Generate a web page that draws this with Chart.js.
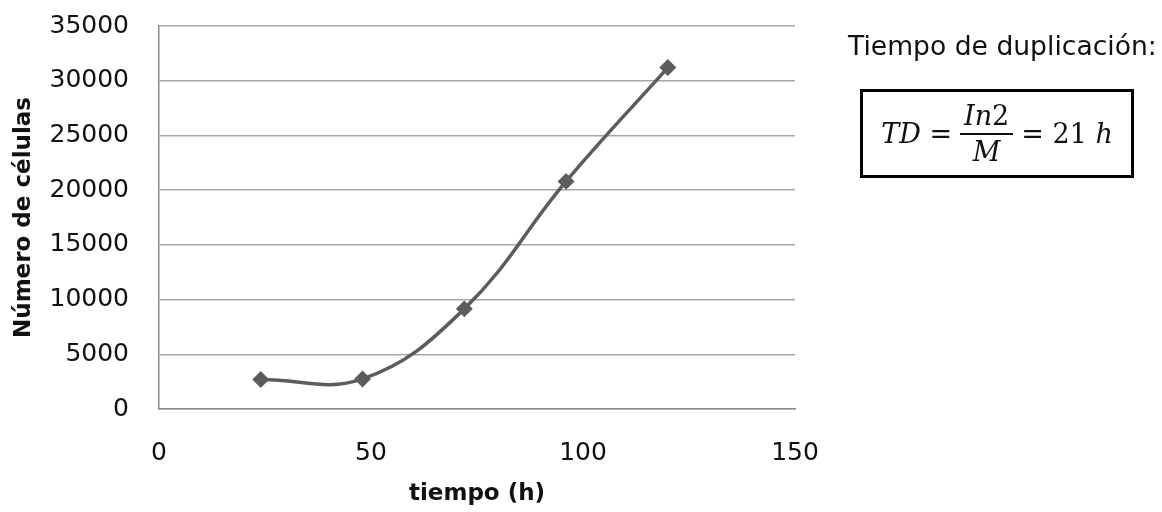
<!DOCTYPE html>
<html><head><meta charset="utf-8">
<script src="https://cdn.jsdelivr.net/npm/chart.js@4/dist/chart.umd.min.js"></script>
<style>
html,body{margin:0;padding:0;background:#fff;}
#wrap{position:relative;width:1162px;height:512px;}
#title{position:absolute;left:848px;top:31px;font-family:"DejaVu Sans",sans-serif;font-size:26.6px;line-height:30px;color:#111;white-space:nowrap;}
#box{position:absolute;left:860px;top:89px;width:268px;height:83px;border:3px solid #000;box-sizing:content-box;font-family:"DejaVu Serif","Liberation Serif",serif;font-size:27px;color:#111;display:flex;align-items:center;justify-content:center;}
.frac{display:inline-flex;flex-direction:column;align-items:center;margin:0 8px;}
.frac .num{border-bottom:2px solid #111;padding:0 4px 2px;}
.frac .den{padding-top:1px;}
i{font-style:italic;}
</style></head>
<body><div id="wrap"><canvas id="c" width="1162" height="512"></canvas>
<div id="title">Tiempo de duplicación:</div>
<div id="box"><span><i>TD</i> =</span><span class="frac"><span class="num"><i>In</i>2</span><span class="den"><i>M</i></span></span><span>= 21 <i>h</i></span></div>
</div>
<script>
const hours = [24, 48, 72, 96, 120];
const cells = [2700, 2750, 9150, 20800, 31200];
const xTicks = [0, 50, 100, 150];
const yTicks = [0, 5000, 10000, 15000, 20000, 25000, 30000, 35000];
const xTitle = 'tiempo (h)';
const yTitle = 'Número de células';

const tickFont = { family: 'DejaVu Sans', size: 25 };
const titleFont = { family: 'DejaVu Sans', size: 23, weight: 'bold' };

const ctx = document.getElementById('c');
new Chart(ctx, {
  type: 'scatter',
  data: { datasets: [{
    data: hours.map((h, i) => ({x: h, y: cells[i]})),
    showLine: true,
    borderColor: '#5c5c5c',
    backgroundColor: '#5c5c5c',
    borderWidth: 3.5,
    tension: 0.4,
    pointStyle: 'rectRot',
    pointRadius: 6,
    pointHoverRadius: 6
  }]},
  options: {
    responsive: false,
    animation: false,
    events: [],
    layout: { padding: { left: 10, right: 367, top: 26, bottom: 4 } },
    plugins: { legend: {display: false}, tooltip: {enabled: false} },
    scales: {
      x: {
        type: 'linear', min: 0, max: 150,
        afterBuildTicks: a => { a.ticks = xTicks.map(v => ({value: v})); },
        afterFit: s => { s.height = 99; s.paddingLeft = 0; s.paddingRight = 0; },
        grid: { display: false, drawTicks: false },
        border: { display: true, color: '#8c8c8c', width: 1.5 },
        ticks: { color: '#111', font: tickFont, padding: 29, callback: v => String(v) },
        title: { display: true, text: xTitle, color: '#111', font: titleFont, padding: { top: 0, bottom: 0 } }
      },
      y: {
        min: 0, max: 35000,
        afterBuildTicks: a => { a.ticks = yTicks.map(v => ({value: v})); },
        afterFit: s => { s.width = 149; s.paddingTop = 0; s.paddingBottom = 0; },
        grid: { color: '#a6a6a6', lineWidth: 1.5, drawTicks: false },
        border: { display: true, color: '#8c8c8c', width: 1.5 },
        ticks: { color: '#111', font: tickFont, padding: 30, callback: v => String(v) },
        title: { display: true, text: yTitle, color: '#111', font: titleFont, padding: { top: 0, bottom: 0 } }
      }
    }
  }
});
</script></body></html>
